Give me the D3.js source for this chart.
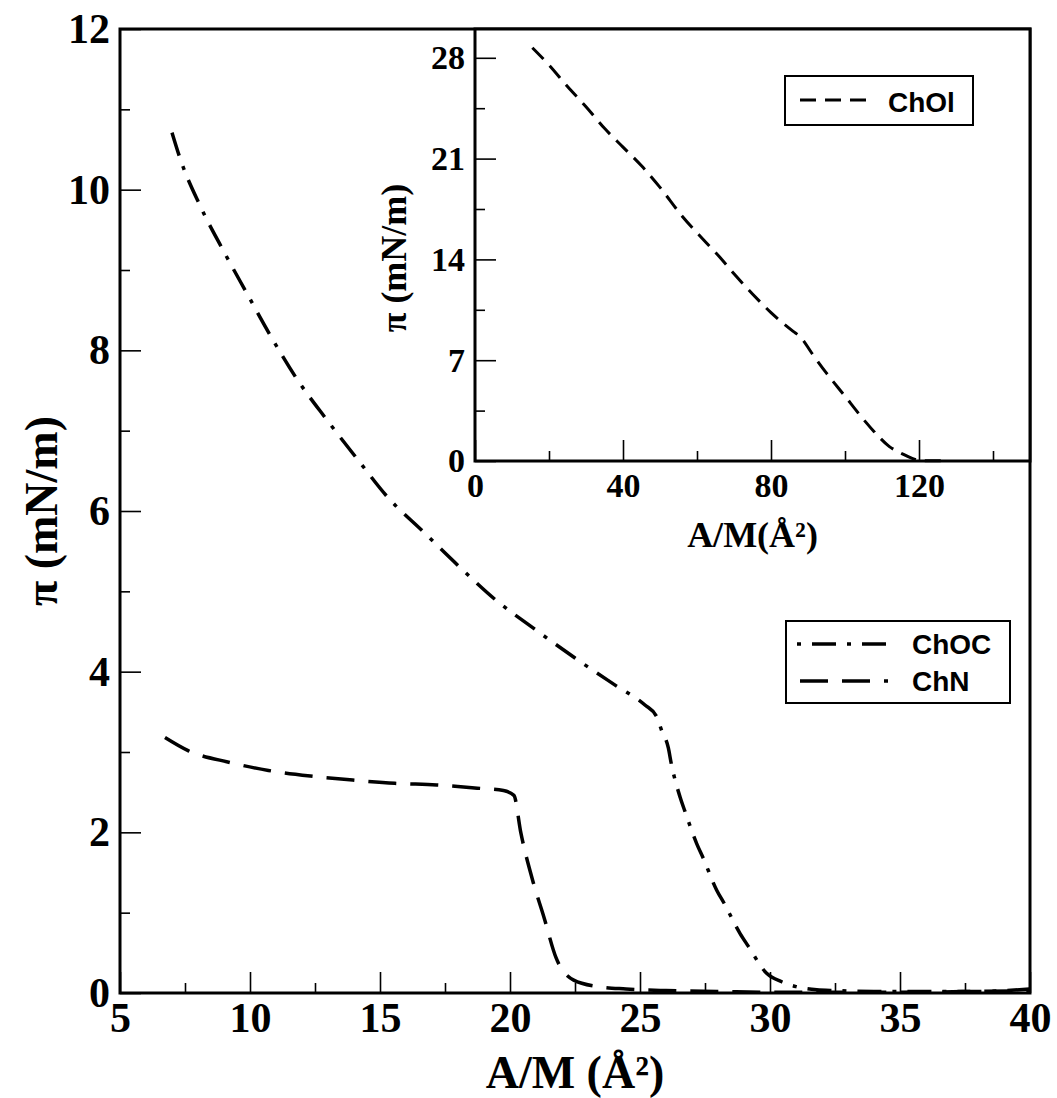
<!DOCTYPE html>
<html>
<head>
<meta charset="utf-8">
<script src="https://cdnjs.cloudflare.com/ajax/libs/d3/7.8.5/d3.min.js"></script>
<style>
  html, body { margin: 0; padding: 0; background: #fff; }
  svg { display: block; }
</style>
</head>
<body>
<svg id="chart" width="1057" height="1098"></svg>
<script>
// ---------------- DATA ----------------
// Main plot: ChOC (dash-dot)
const chocX = [7.0, 7.31, 8.08, 8.96, 9.88, 10.81, 11.81, 12.92, 14.12, 15.3, 16.67, 18.04, 19.46, 20.99, 22.5, 24.1, 25.19, 25.64, 25.83, 26.09, 26.2, 26.54, 26.73, 27.18, 27.43, 27.95, 28.23, 28.85, 29.17, 29.87, 30.45, 31.0, 31.8, 32.5, 34.0, 36.0, 38.0, 40.0];
const chocY = [10.71, 10.39, 9.80, 9.25, 8.71, 8.17, 7.64, 7.15, 6.65, 6.17, 5.74, 5.31, 4.89, 4.52, 4.17, 3.82, 3.585, 3.44, 3.27, 3.05, 2.86, 2.44, 2.26, 1.86, 1.68, 1.28, 1.12, 0.74, 0.58, 0.245, 0.14, 0.08, 0.04, 0.03, 0.02, 0.02, 0.02, 0.05];
// Main plot: ChN (long dash)
const chnX = [6.73, 7.6, 9.22, 10.71, 12.33, 13.95, 15.57, 17.18, 18.74, 19.75, 20.15, 20.42, 20.9, 21.3, 21.77, 22.45, 23.38, 24.46, 26.0, 28.0, 30.0, 32.0, 35.0, 38.0, 40.0];
const chnY = [3.18, 3.02, 2.87, 2.77, 2.70, 2.65, 2.61, 2.59, 2.55, 2.52, 2.46, 1.99, 1.37, 0.95, 0.44, 0.16, 0.08, 0.05, 0.03, 0.02, 0.01, 0.01, 0.01, 0.02, 0.03];
// Inset: ChOl (short dash)
const cholX = [15.5, 20, 25, 30, 35, 40, 45, 50, 56, 62, 66, 70, 75, 80, 86, 88, 91, 95, 100, 104, 108, 112, 115.5, 118, 120, 122, 127];
const cholY = [28.7, 27.5, 26.0, 24.6, 23.1, 21.8, 20.5, 19.0, 17.0, 15.3, 14.2, 13.0, 11.6, 10.3, 9.0, 8.6, 7.5, 6.1, 4.5, 3.2, 2.0, 1.0, 0.5, 0.2, 0.05, 0.02, 0.02];

// Ticks
const mainXMajor = [5, 10, 15, 20, 25, 30, 35, 40];
const mainXMinor = [7.5, 12.5, 17.5, 22.5, 27.5, 32.5, 37.5];
const mainYMajor = [0, 2, 4, 6, 8, 10, 12];
const mainYMinor = [1, 3, 5, 7, 9, 11];
const insetXMajor = [0, 40, 80, 120];
const insetXMinor = [20, 60, 100, 140];
const insetYMajor = [0, 7, 14, 21, 28];
const insetYMinor = [3.5, 10.5, 17.5, 24.5];

const seriesNames = ["ChOC", "ChN", "ChOl"];

// ---------------- LAYOUT ----------------
const svg = d3.select("#chart");
const serif = "'Liberation Serif', 'Times New Roman', serif";
const sans = "'Liberation Sans', Arial, Helvetica, sans-serif";

const M = { left: 120, right: 1030, top: 29, bottom: 993 };
const I = { left: 475, right: 1030, top: 29, bottom: 461 };

const x = d3.scaleLinear().domain([5, 40]).range([M.left, M.right]);
const y = d3.scaleLinear().domain([0, 12]).range([M.bottom, M.top]);
const xi = d3.scaleLinear().domain([0, 150]).range([I.left, I.right]);
const yi = d3.scaleLinear().domain([0, 30]).range([I.bottom, I.top]);

function zip(xs, ys) { return xs.map((v, i) => [v, ys[i]]); }

// ---------------- MAIN PLOT ----------------
const main = svg.append("g");

const clipMain = svg.append("defs").append("clipPath").attr("id", "clipMain")
  .append("rect").attr("x", M.left).attr("y", M.top)
  .attr("width", M.right - M.left).attr("height", M.bottom - M.top);

const lineMain = d3.line().x(d => x(d[0])).y(d => y(d[1])).curve(d3.curveMonotoneX);

main.append("path").datum(zip(chocX, chocY))
  .attr("d", lineMain).attr("fill", "none").attr("stroke", "#000")
  .attr("stroke-width", 3.5).attr("stroke-dasharray", "24,11,4,11")
  .attr("clip-path", "url(#clipMain)");

main.append("path").datum(zip(chnX, chnY))
  .attr("d", lineMain).attr("fill", "none").attr("stroke", "#000")
  .attr("stroke-width", 3.5).attr("stroke-dasharray", "28,14")
  .attr("clip-path", "url(#clipMain)");

function styleAxis(g, fontSize) {
  g.select(".domain").remove();
  g.selectAll(".tick line").attr("stroke", "#000").attr("stroke-width", 1.6);
  g.selectAll(".tick text").attr("font-family", serif).attr("font-weight", "bold")
    .attr("font-size", fontSize).attr("fill", "#000");
}

// main x axis
main.append("g").attr("transform", `translate(0,${M.bottom})`)
  .call(d3.axisBottom(x).tickValues(mainXMajor).tickSize(-21).tickPadding(9).tickFormat(d3.format("d")))
  .call(g => styleAxis(g, 42));
main.append("g").attr("transform", `translate(0,${M.bottom})`)
  .call(d3.axisBottom(x).tickValues(mainXMinor).tickSize(-10).tickFormat(""))
  .call(g => styleAxis(g, 42));
// main y axis
main.append("g").attr("transform", `translate(${M.left},0)`)
  .call(d3.axisLeft(y).tickValues(mainYMajor).tickSize(-21).tickPadding(10).tickFormat(d3.format("d")))
  .call(g => styleAxis(g, 42));
main.append("g").attr("transform", `translate(${M.left},0)`)
  .call(d3.axisLeft(y).tickValues(mainYMinor).tickSize(-10).tickFormat(""))
  .call(g => styleAxis(g, 42));

// main frame
main.append("rect").attr("x", M.left).attr("y", M.top)
  .attr("width", M.right - M.left).attr("height", M.bottom - M.top)
  .attr("fill", "none").attr("stroke", "#000").attr("stroke-width", 3);

// main titles
main.append("text").attr("x", (M.left + M.right) / 2).attr("y", 1088)
  .attr("text-anchor", "middle").attr("font-family", serif).attr("font-weight", "bold")
  .attr("font-size", 46).text("A/M (Å²)");
main.append("text").attr("transform", `translate(57,${(M.top + M.bottom) / 2}) rotate(-90)`)
  .attr("text-anchor", "middle").attr("font-family", serif).attr("font-weight", "bold")
  .attr("font-size", 46).text("π (mN/m)");

// main legend
const lg = main.append("g");
lg.append("rect").attr("x", 786).attr("y", 621).attr("width", 224).attr("height", 82)
  .attr("fill", "#fff").attr("stroke", "#000").attr("stroke-width", 2);
lg.append("line").attr("x1", 797).attr("x2", 886).attr("y1", 644).attr("y2", 644)
  .attr("stroke", "#000").attr("stroke-width", 3.5).attr("stroke-dasharray", "24,11,4,11")
  .attr("stroke-dashoffset", 35);
lg.append("line").attr("x1", 800).attr("x2", 888).attr("y1", 681).attr("y2", 681)
  .attr("stroke", "#000").attr("stroke-width", 3.5).attr("stroke-dasharray", "28,14");
lg.append("text").attr("x", 912).attr("y", 654).attr("font-family", sans).attr("font-weight", "bold")
  .attr("font-size", 28).text(seriesNames[0]);
lg.append("text").attr("x", 912).attr("y", 691).attr("font-family", sans).attr("font-weight", "bold")
  .attr("font-size", 28).text(seriesNames[1]);

// ---------------- INSET ----------------
const inset = svg.append("g");
inset.append("rect").attr("x", I.left).attr("y", I.top)
  .attr("width", I.right - I.left).attr("height", I.bottom - I.top).attr("fill", "#fff");

const lineInset = d3.line().x(d => xi(d[0])).y(d => yi(d[1])).curve(d3.curveMonotoneX);
inset.append("path").datum(zip(cholX, cholY))
  .attr("d", lineInset).attr("fill", "none").attr("stroke", "#000")
  .attr("stroke-width", 3).attr("stroke-dasharray", "16,9");

inset.append("g").attr("transform", `translate(0,${I.bottom})`)
  .call(d3.axisBottom(xi).tickValues(insetXMajor).tickSize(-21).tickPadding(12).tickFormat(d3.format("d")))
  .call(g => styleAxis(g, 34));
inset.append("g").attr("transform", `translate(0,${I.bottom})`)
  .call(d3.axisBottom(xi).tickValues(insetXMinor).tickSize(-10).tickFormat(""))
  .call(g => styleAxis(g, 34));
inset.append("g").attr("transform", `translate(${I.left},0)`)
  .call(d3.axisLeft(yi).tickValues(insetYMajor).tickSize(-21).tickPadding(10).tickFormat(d3.format("d")))
  .call(g => styleAxis(g, 34));
inset.append("g").attr("transform", `translate(${I.left},0)`)
  .call(d3.axisLeft(yi).tickValues(insetYMinor).tickSize(-10).tickFormat(""))
  .call(g => styleAxis(g, 34));

inset.append("rect").attr("x", I.left).attr("y", I.top)
  .attr("width", I.right - I.left).attr("height", I.bottom - I.top)
  .attr("fill", "none").attr("stroke", "#000").attr("stroke-width", 3);

inset.append("text").attr("x", (I.left + I.right) / 2).attr("y", 547)
  .attr("text-anchor", "middle").attr("font-family", serif).attr("font-weight", "bold")
  .attr("font-size", 36).text("A/M(Å²)");
inset.append("text").attr("transform", `translate(406,258) rotate(-90)`)
  .attr("text-anchor", "middle").attr("font-family", serif).attr("font-weight", "bold")
  .attr("font-size", 36).text("π (mN/m)");

// inset legend
const li = inset.append("g");
li.append("rect").attr("x", 785).attr("y", 76).attr("width", 188).attr("height", 49)
  .attr("fill", "#fff").attr("stroke", "#000").attr("stroke-width", 2);
li.append("line").attr("x1", 800).attr("x2", 866).attr("y1", 100).attr("y2", 100)
  .attr("stroke", "#000").attr("stroke-width", 3).attr("stroke-dasharray", "16,9");
li.append("text").attr("x", 888).attr("y", 112).attr("font-family", sans).attr("font-weight", "bold")
  .attr("font-size", 28).text(seriesNames[2]);
</script>
</body>
</html>
